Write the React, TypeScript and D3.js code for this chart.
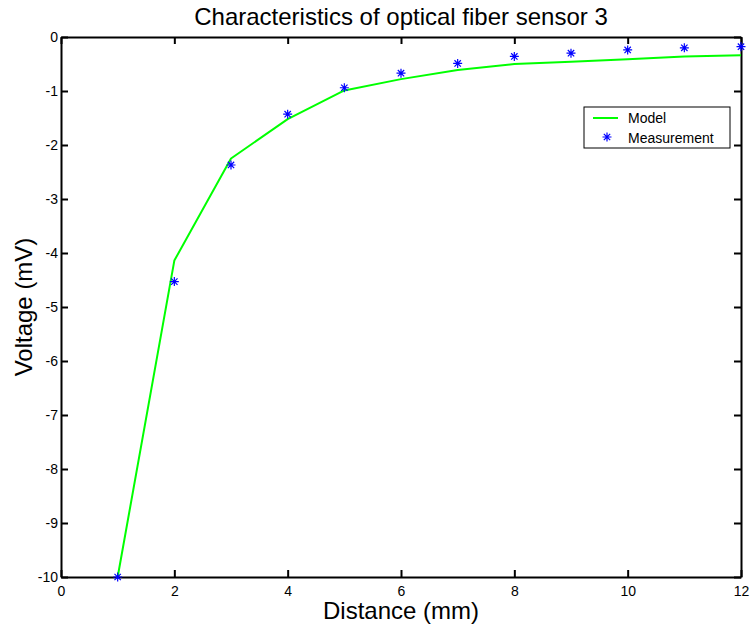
import { useEffect, useRef } from "react";
import * as d3 from "d3";

// distance in mm
const distances = [1, 2, 3, 4, 5, 6, 7, 8, 9, 10, 11, 12];
// model curve, mV
const modelValues = [-10, -4.14, -2.25, -1.52, -0.99, -0.78, -0.61, -0.5, -0.46, -0.41, -0.36, -0.34];
// measured points, mV
const measuredValues = [-10, -4.53, -2.37, -1.43, -0.94, -0.67, -0.49, -0.36, -0.3, -0.24, -0.2, -0.18];

const xTicks = [0, 2, 4, 6, 8, 10, 12];
const yTicks = [0, -1, -2, -3, -4, -5, -6, -7, -8, -9, -10];

const legendLabels = ["Model", "Measurement"];

const WIDTH = 750;
const HEIGHT = 630;
const FONT = "'Liberation Sans', Arial, sans-serif";

export default function App() {
    const chartRef = useRef<SVGSVGElement | null>(null);

    useEffect(() => {
        document.body.style.margin = "0";
        if (!chartRef.current) return;
        const svg = d3.select(chartRef.current);
        svg.selectAll("*").remove();

        const margin = { top: 37, right: 9, bottom: 53, left: 61 };
        const x = d3.scaleLinear().domain([0, 12]).range([margin.left, WIDTH - margin.right]);
        const y = d3.scaleLinear().domain([-10, 0]).range([HEIGHT - margin.bottom, margin.top]);
        const tickLen = 7;
        const plain = (d: d3.NumberValue) => String(d); // hyphen minus, like matlab

        svg.append("rect").attr("width", WIDTH).attr("height", HEIGHT).attr("fill", "#fff");

        // axes: ticks pointing inward on all four sides
        const bottom = svg
            .append("g")
            .attr("transform", `translate(0,${y(-10)})`)
            .call(d3.axisBottom(x).tickValues(xTicks).tickSizeInner(-tickLen).tickSizeOuter(0).tickPadding(8).tickFormat(plain));
        const top = svg
            .append("g")
            .attr("transform", `translate(0,${y(0)})`)
            .call(d3.axisTop(x).tickValues(xTicks).tickSizeInner(-tickLen).tickSizeOuter(0).tickFormat(() => ""));
        const left = svg
            .append("g")
            .attr("transform", `translate(${x(0)},0)`)
            .call(d3.axisLeft(y).tickValues(yTicks).tickSizeInner(-tickLen).tickSizeOuter(0).tickPadding(5).tickFormat(plain));
        const right = svg
            .append("g")
            .attr("transform", `translate(${x(12)},0)`)
            .call(d3.axisRight(y).tickValues(yTicks).tickSizeInner(-tickLen).tickSizeOuter(0).tickFormat(() => ""));

        [bottom, top, left, right].forEach(g => {
            g.select(".domain").attr("stroke", "#000").attr("stroke-width", 2);
            g.selectAll(".tick line").attr("stroke", "#000").attr("stroke-width", 2);
            g.selectAll("text").attr("font-family", FONT).attr("font-size", 14).attr("fill", "#000");
        });
        bottom.selectAll(".tick text").attr("dy", "0.75em");
        left.selectAll(".tick text").attr("dx", "2");

        // model line
        const line = d3
            .line<number>()
            .x((_, i) => x(distances[i]))
            .y(d => y(d));
        svg
            .append("path")
            .datum(modelValues)
            .attr("d", line)
            .attr("fill", "none")
            .attr("stroke", "#00ff00")
            .attr("stroke-width", 2)
            .attr("stroke-linejoin", "round");

        // asterisk marker
        const star = (g: d3.Selection<SVGGElement, unknown, null, undefined>, cx: number, cy: number) => {
            const r = 4.5;
            const d = r * 0.707;
            const p = `M${cx - r},${cy}H${cx + r}M${cx},${cy - r}V${cy + r}` +
                `M${cx - d},${cy - d}L${cx + d},${cy + d}M${cx - d},${cy + d}L${cx + d},${cy - d}`;
            g.append("path").attr("d", p).attr("stroke", "#0000ff").attr("stroke-width", 1.2).attr("fill", "none");
        };
        const marks = svg.append("g");
        measuredValues.forEach((v, i) => star(marks as any, x(distances[i]), y(v)));

        // title and axis labels
        svg
            .append("text")
            .attr("x", (x(0) + x(12)) / 2)
            .attr("y", 25)
            .attr("text-anchor", "middle")
            .attr("font-family", FONT)
            .attr("font-size", 24)
            .text("Characteristics of optical fiber sensor 3");
        svg
            .append("text")
            .attr("x", (x(0) + x(12)) / 2)
            .attr("y", 619)
            .attr("text-anchor", "middle")
            .attr("font-family", FONT)
            .attr("font-size", 24)
            .text("Distance (mm)");
        svg
            .append("text")
            .attr("transform", `translate(32,${(y(0) + y(-10)) / 2}) rotate(-90)`)
            .attr("text-anchor", "middle")
            .attr("font-family", FONT)
            .attr("font-size", 24)
            .text("Voltage (mV)");

        // legend
        const legend = svg.append("g").attr("transform", "translate(584,107)");
        legend
            .append("rect")
            .attr("width", 146)
            .attr("height", 41)
            .attr("fill", "#fff")
            .attr("stroke", "#000")
            .attr("stroke-width", 1);
        legend
            .append("line")
            .attr("x1", 9)
            .attr("x2", 34)
            .attr("y1", 11)
            .attr("y2", 11)
            .attr("stroke", "#00ff00")
            .attr("stroke-width", 2);
        star(legend as any, 23, 30);
        legend
            .selectAll("text.lbl")
            .data(legendLabels)
            .enter()
            .append("text")
            .attr("class", "lbl")
            .attr("x", 44)
            .attr("y", (_, i) => 16 + i * 19.5)
            .attr("font-family", FONT)
            .attr("font-size", 14)
            .text(d => d);
    }, []);

    return <svg ref={chartRef} width={WIDTH} height={HEIGHT} style={{ display: "block" }} />;
}
